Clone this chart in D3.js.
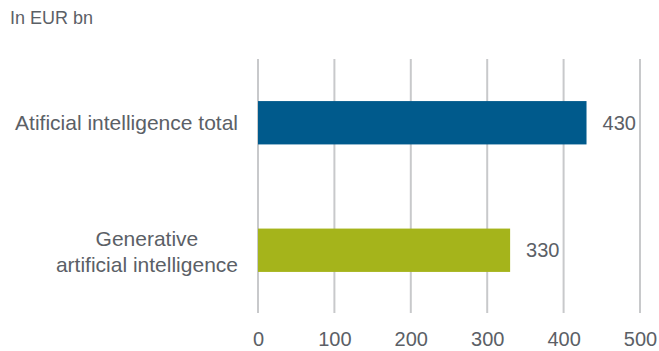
<!DOCTYPE html>
<html>
<head>
<meta charset="utf-8">
<script src="https://cdn.jsdelivr.net/npm/d3@7"></script>
<style>
  html, body { margin: 0; padding: 0; background: #fff; }
  svg { display: block; font-family: "Liberation Sans", Arial, sans-serif; }
</style>
</head>
<body>
<svg id="chart" width="659" height="351"></svg>
<script>
// Market size by category, EUR bn
const categories = ["Atificial intelligence total", "Generative\nartificial intelligence"];
const values = [430, 330];
const barColors = ["#005a8c", "#a5b41b"];
const tickValues = [0, 100, 200, 300, 400, 500];
const unitLabel = "In EUR bn";

const svg = d3.select("#chart");
const textColor = "#5b6066";

const x = d3.scaleLinear().domain([0, 500]).range([258, 640]);
const y = d3.scaleBand().domain(categories).range([59, 314])
  .paddingInner(0.66).paddingOuter(0.33);

// unit label
svg.append("text")
  .attr("x", 10).attr("y", 24)
  .attr("font-size", 18).attr("fill", textColor)
  .text(unitLabel);

// vertical gridlines
svg.append("g").selectAll("line").data(tickValues).join("line")
  .attr("x1", d => x(d)).attr("x2", d => x(d))
  .attr("y1", 59).attr("y2", 313)
  .attr("stroke", "#c8c9cb").attr("stroke-width", 2);

// bottom axis labels
const axis = d3.axisBottom(x).tickValues(tickValues).tickSize(0).tickPadding(0);
const gx = svg.append("g").attr("transform", "translate(0,346)").call(axis);
gx.select(".domain").remove();
gx.selectAll("text")
  .attr("font-size", 20).attr("fill", textColor)
  .attr("font-family", "Liberation Sans, Arial, sans-serif")
  .attr("dy", 0).attr("y", 0);

// bars
svg.append("g").selectAll("rect").data(categories).join("rect")
  .attr("x", x(0))
  .attr("y", d => y(d))
  .attr("width", (d, i) => x(values[i]) - x(0))
  .attr("height", y.bandwidth())
  .attr("fill", (d, i) => barColors[i]);

// value labels
svg.append("g").selectAll("text").data(categories).join("text")
  .attr("x", (d, i) => x(values[i]) + 16)
  .attr("y", d => y(d) + y.bandwidth() / 2)
  .attr("dy", "0.36em")
  .attr("font-size", 20).attr("fill", textColor)
  .text((d, i) => values[i]);

// category labels: right-aligned block, lines centred within it
const labelRight = 238;
const lineH = 26;
categories.forEach(cat => {
  const lines = cat.split("\n");
  const g = svg.append("g");
  const cy = y(cat) + y.bandwidth() / 2 + (lines.length > 1 ? 2 : 0);
  const texts = lines.map((ln, j) => g.append("text")
    .attr("font-size", 21).attr("fill", textColor)
    .attr("y", cy + (j - (lines.length - 1) / 2) * lineH)
    .attr("dy", "0.33em")
    .text(ln));
  const widths = texts.map(t => t.node().getComputedTextLength());
  const maxW = d3.max(widths);
  texts.forEach(t => t.attr("text-anchor", "middle").attr("x", labelRight - maxW / 2));
});
</script>
</body>
</html>
